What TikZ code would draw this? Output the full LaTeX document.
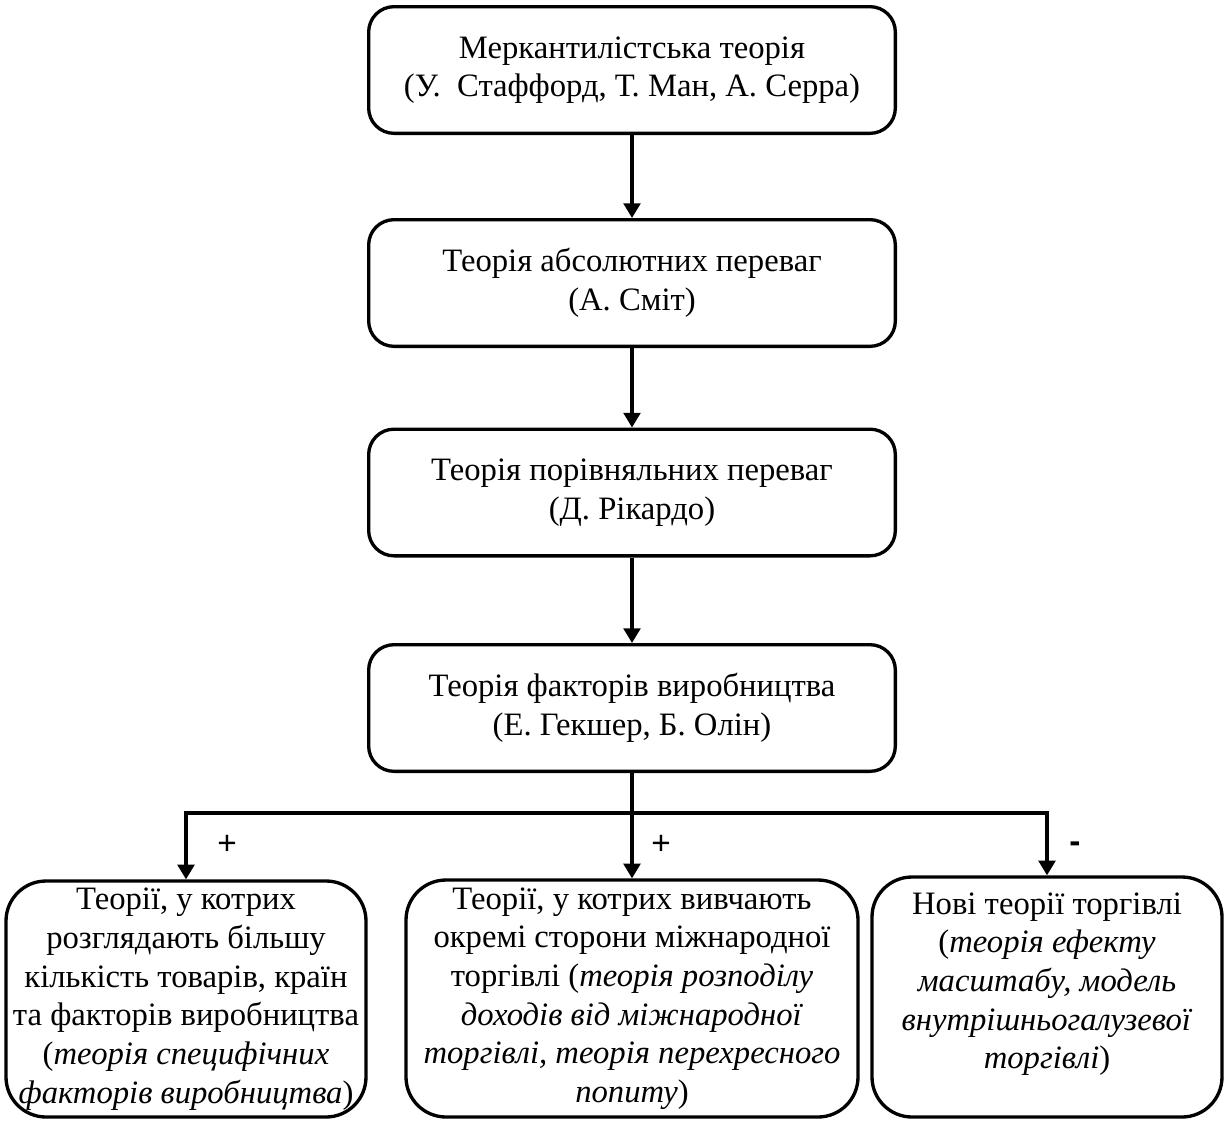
\documentclass[tikz,border=0pt]{standalone}
\usepackage{fontspec}
\setmainfont{Liberation Serif}
\newfontfamily\signfont{Liberation Sans}
\usetikzlibrary{arrows.meta,calc}
\begin{document}
\begin{tikzpicture}[x=0.75pt,y=-0.75pt,
  txt/.style={align=center,inner sep=0pt,font=\fontsize{24.5}{29}\selectfont},
  box/.style={draw,line width=2.5pt,inner sep=0pt,txt},
  topbox/.style={box,rounded corners=19pt,minimum width=395pt,minimum height=95pt},
  botbox/.style={box,rounded corners=30pt},
  arr/.style={line width=2.5pt,-{Triangle[length=11pt,width=12.5pt]}},
  sign/.style={inner sep=0pt,font=\signfont\fontsize{25}{27}\selectfont}]
\useasboundingbox (0,0) rectangle (1227,1121);

\node[topbox] (b1) at (632,70) {Меркантилістська теорія\\(У.\ \ Стаффорд, Т. Ман, А. Серра)};
\node[topbox] (b2) at (632,283) {Теорія абсолютних переваг\\(А. Сміт)};
\node[topbox] (b3) at (632,492.5) {Теорія порівняльних переваг\\(Д. Рікардо)};
\node[topbox] (b4) at (632,708) {Теорія факторів виробництва\\(Е. Гекшер, Б. Олін)};

\node[botbox,minimum width=270pt,minimum height=177pt] (bl) at (186,999) {Теорії, у котрих\\розглядають більшу\\кількість товарів, країн\\та факторів виробництва\\(\textit{теорія специфічних}\\\textit{факторів виробництва})};
\node[botbox,minimum width=339pt,minimum height=177.75pt] (bm) at (632,998.5) {Теорії, у котрих вивчають\\окремі сторони міжнародної\\торгівлі (\textit{теорія розподілу}\\\textit{доходів від міжнародної}\\\textit{торгівлі, теорія перехресного}\\\textit{попиту})};
\node[botbox,minimum width=262.5pt,minimum height=180pt] (br) at (1047,997) {};
\node[txt] (brt) at (1047,984) {Нові теорії торгівлі\\(\textit{теорія ефекту}\\\textit{масштабу, модель}\\\textit{внутрішньогалузевої}\\\textit{торгівлі})};

\draw[arr] (b1.south) -- (b2.north);
\draw[arr] (b2.south) -- (b3.north);
\draw[arr] (b3.south) -- (b4.north);

\coordinate (jm) at (b4.south |- 0,813);
\coordinate (jl) at (bl.north |- jm);
\coordinate (jr) at (br.north |- jm);
\draw[line width=2.5pt] (b4.south) -- (jm);
\draw[line width=3pt,line cap=rect] (jl) -- (jr);
\draw[arr] (jl) -- (bl.north);
\draw[arr] (jm) -- (jm |- bm.north);
\draw[arr] (jr) -- (br.north);

\node[sign] (p1) at (227,845) {+};
\node[sign] (p2) at (661,845) {+};
\node[sign] (m3) at (1075,847) {\bfseries -};
\end{tikzpicture}
\end{document}
